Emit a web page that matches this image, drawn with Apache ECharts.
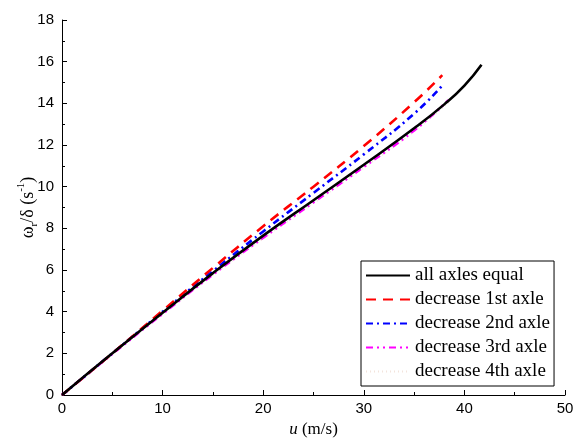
<!DOCTYPE html>
<html><head><meta charset="utf-8">
<script src="https://cdn.jsdelivr.net/npm/echarts@6/dist/echarts.min.js"></script>
<style>html,body{margin:0;padding:0;background:#fff}#c{width:581px;height:438px}</style>
</head><body><div id="c"></div>
<script>
const seriesNames = ['all axles equal','decrease 1st axle','decrease 2nd axle','decrease 3rd axle','decrease 4th axle'];
const uAll = [0,5,10,15,20,25,30,35,38,40,41.7];
const vAll = [0,2.0,3.95,5.85,7.65,9.35,11.05,12.8,13.95,14.85,15.85];
const u1 = [0,5,10,15,20,25,30,35,37.8];
const v1 = [0,2.0,4.05,6.1,8.1,10.0,11.95,14.05,15.35];
const u2 = [0,5,10,15,20,25,30,35,37.8];
const v2 = [0,2.0,4.0,5.95,7.85,9.7,11.55,13.5,14.85];
const u3 = [0,5,10,15,20,25,30,35,38.4];
const v3 = [0,1.97,3.9,5.78,7.55,9.25,10.95,12.7,14.15];
const u4 = [0,5,10,15,20,25,30,35,38.6];
const v4 = [0,1.95,3.88,5.75,7.5,9.2,10.9,12.65,14.1];
const xTicks = [0,10,20,30,40,50];
const yTicks = [0,2,4,6,8,10,12,14,16,18];

const pair = (u,v)=>u.map((x,i)=>[x,v[i]]);
const styles = [
  {color:'#000000', width:2.6, type:'solid'},
  {color:'#ff0000', width:2.6, type:[10,7]},
  {color:'#0000ff', width:2.6, type:[7,4,2,4]},
  {color:'#ff00ff', width:2.6, type:[7,4,2,4,2,4]},
  {color:'#f3e4dc', width:1.5, type:[1,3]}
];
const datas = [pair(uAll,vAll),pair(u1,v1),pair(u2,v2),pair(u3,v3),pair(u4,v4)];
const order = [4,3,2,1,0];
const series = order.map(i=>({
  name: seriesNames[i], type:'line', data: datas[i], symbol:'none', smooth:true,
  lineStyle: styles[i], itemStyle:{color:styles[i].color}, z: 10-i
}));

const chart = echarts.init(document.getElementById('c'));
chart.setOption({
  animation:false,
  backgroundColor:'#fff',
  grid:{left:62,right:16,top:20,bottom:43, outerBoundsMode:'none', containLabel:false},
  legend:{
    show:true,
    data: seriesNames, orient:'vertical', left:361, top:261,
    itemWidth:44, itemHeight:14, itemGap:3,
    padding:[4,4,4,4],
    borderColor:'#000', borderWidth:1,
    itemStyle:{opacity:0},
    textStyle:{fontFamily:'Liberation Serif', fontSize:19, lineHeight:21, color:'#000'}
  },
  xAxis:{
    type:'value', min:0, max:50, interval:10,
    name:'{i|u} (m/s)', nameLocation:'middle', nameGap:26,
    nameTextStyle:{fontFamily:'Liberation Serif', fontSize:17, color:'#000',
      rich:{i:{fontFamily:'Liberation Serif', fontStyle:'italic', fontSize:17, color:'#000'}}},
    axisLine:{lineStyle:{color:'#000', width:1}},
    axisTick:{inside:true, length:5, lineStyle:{color:'#000'}},
    minorTick:{show:true, splitNumber:2, length:3, lineStyle:{color:'#000'}},
    axisLabel:{fontFamily:'Liberation Sans', fontSize:15, color:'#000', margin:6,
      formatter:v=>xTicks.includes(v)?String(v):''},
    splitLine:{show:false}
  },
  yAxis:{
    type:'value', min:0, max:18, interval:2,
    name:'ω{s|r}/δ (s{p|-1})', nameLocation:'middle', nameGap:22, nameRotate:90, nameMoveOverlap:false,
    nameTextStyle:{fontFamily:'Liberation Serif', fontSize:18, color:'#000',
      rich:{s:{fontFamily:'Liberation Serif', fontSize:11, color:'#000', verticalAlign:'bottom', lineHeight:24},
            p:{fontFamily:'Liberation Serif', fontSize:11, color:'#000', verticalAlign:'top', lineHeight:24}}},
    axisLine:{show:true, lineStyle:{color:'#000', width:1}},
    axisTick:{show:true, inside:true, length:5, lineStyle:{color:'#000'}},
    minorTick:{show:true, splitNumber:2, length:3, lineStyle:{color:'#000'}},
    axisLabel:{fontFamily:'Liberation Sans', fontSize:15, color:'#000', margin:8,
      formatter:v=>yTicks.includes(v)?String(v):''},
    splitLine:{show:false}
  },
  series: series
});
</script></body></html>
